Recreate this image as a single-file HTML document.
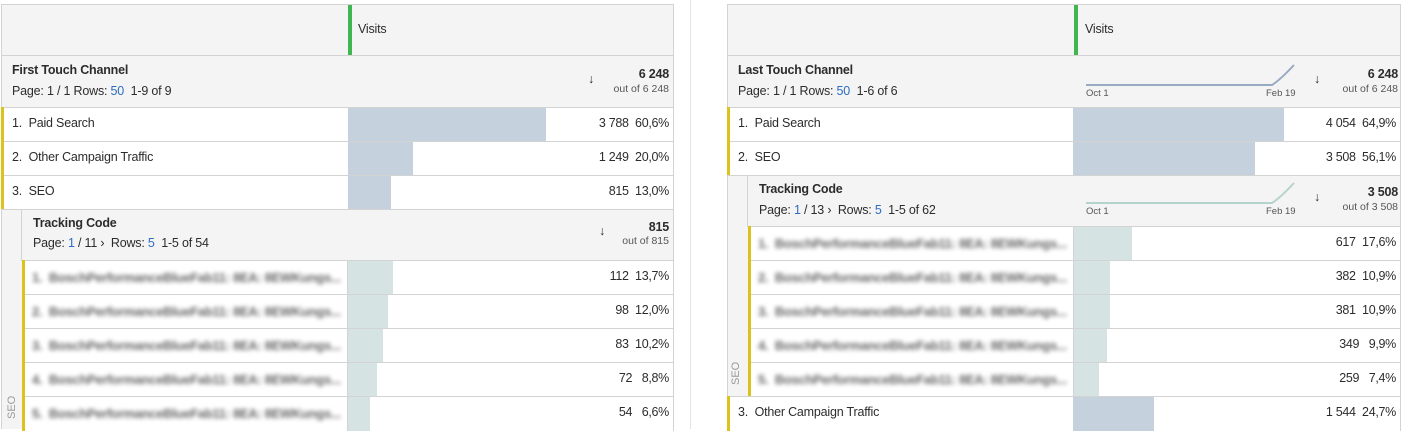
<!DOCTYPE html>
<html><head><meta charset="utf-8"><style>
*{margin:0;padding:0;box-sizing:border-box}
body{width:1409px;height:429px;background:#fff;position:relative;overflow:hidden;font-family:"Liberation Sans",sans-serif;color:#2c2c2c}
.a{position:absolute}
.hd{background:#f4f4f4;border:1px solid #d3d3d3}
.t{font-size:12.5px;white-space:nowrap;letter-spacing:-0.2px}
.b{font-weight:bold}
.blue{color:#2d6cc0}
.row{position:absolute;background:#fff;border-top:1px solid #d3d3d3;border-right:1px solid #d3d3d3}
.yel{position:absolute;left:0;top:-1px;bottom:0;width:3px;background:#dcc21c}
.bar{position:absolute;top:0;bottom:0}
.num{position:absolute;right:4px;font-size:12.5px;letter-spacing:-0.3px;white-space:nowrap}
.blur{filter:blur(2px);color:#666;font-size:13px;font-weight:bold;white-space:nowrap;letter-spacing:-0.3px}
.sm{font-size:10.5px;color:#555}
</style></head><body>
<div class="a" style="left:690px;top:0;width:1px;height:429px;background:#e3e3e3"></div>

<!-- LEFT PANEL -->
<div class="a hd" style="left:1px;top:4px;width:673px;height:52px"></div>
<div class="a" style="left:348px;top:5px;width:4px;height:50px;background:#3fb64f"></div>
<div class="a t" style="left:358px;top:22px">Visits</div>
<div class="a hd" style="left:1px;top:55px;width:673px;height:53px"></div>
<div class="a t b" style="left:12px;top:63px">First Touch Channel</div>
<div class="a t" style="left:12px;top:84px">Page: 1 / 1 Rows: <span class="blue">50</span>&nbsp; 1-9 of 9</div>
<div class="a t" style="left:588px;top:72px">&#8595;</div>
<div class="a t b" style="right:740px;top:67px">6 248</div>
<div class="a sm" style="right:740px;top:83px">out of 6 248</div>

<div class="row" style="left:1px;top:107px;width:673px;height:35px"><div class="yel"></div>
<div class="bar" style="left:347px;width:198px;background:#c5d2dd"></div>
<div class="a t" style="left:11px;top:8px">1.&nbsp; Paid Search</div><div class="num" style="top:8px">3 788&nbsp; 60,6%</div></div>
<div class="row" style="left:1px;top:141px;width:673px;height:35px"><div class="yel"></div>
<div class="bar" style="left:347px;width:65px;background:#c5d2dd"></div>
<div class="a t" style="left:11px;top:8px">2.&nbsp; Other Campaign Traffic</div><div class="num" style="top:8px">1 249&nbsp; 20,0%</div></div>
<div class="row" style="left:1px;top:175px;width:673px;height:35px"><div class="yel"></div>
<div class="bar" style="left:347px;width:43px;background:#c5d2dd"></div>
<div class="a t" style="left:11px;top:8px">3.&nbsp; SEO</div><div class="num" style="top:8px">815&nbsp; 13,0%</div></div>

<div class="a" style="left:1px;top:209px;width:21px;height:220px;background:#f4f4f4;border-left:1px solid #d3d3d3;border-top:1px solid #d3d3d3"></div>
<div class="a" style="left:2px;top:403px;font-size:11px;color:#999;transform:rotate(-90deg);width:20px;text-align:center">SEO</div>
<div class="a hd" style="left:21px;top:209px;width:653px;height:52px"></div>
<div class="a t b" style="left:33px;top:216px">Tracking Code</div>
<div class="a t" style="left:33px;top:236px">Page: <span class="blue">1</span> / 11 &#8250;&nbsp; Rows: <span class="blue">5</span>&nbsp; 1-5 of 54</div>
<div class="a t" style="left:599px;top:224px">&#8595;</div>
<div class="a t b" style="right:740px;top:220px">815</div>
<div class="a sm" style="right:740px;top:235px">out of 815</div>

<div class="row" style="left:22px;top:260px;width:652px;height:35px"><div class="yel"></div><div class="bar" style="left:325px;width:1px;background:#d3d3d3"></div><div class="bar" style="left:326px;width:45px;background:#d5e4e3"></div><div class="a blur" style="left:10px;top:9px">1.&nbsp; BoschPerformanceBlueFab11: 8EA: 8EWKungs...</div><div class="num" style="top:8px">112&nbsp; 13,7%</div></div>
<div class="row" style="left:22px;top:294px;width:652px;height:35px"><div class="yel"></div><div class="bar" style="left:325px;width:1px;background:#d3d3d3"></div><div class="bar" style="left:326px;width:40px;background:#d5e4e3"></div><div class="a blur" style="left:10px;top:9px">2.&nbsp; BoschPerformanceBlueFab11: 8EA: 8EWKungs...</div><div class="num" style="top:8px">98&nbsp; 12,0%</div></div>
<div class="row" style="left:22px;top:328px;width:652px;height:35px"><div class="yel"></div><div class="bar" style="left:325px;width:1px;background:#d3d3d3"></div><div class="bar" style="left:326px;width:35px;background:#d5e4e3"></div><div class="a blur" style="left:10px;top:9px">3.&nbsp; BoschPerformanceBlueFab11: 8EA: 8EWKungs...</div><div class="num" style="top:8px">83&nbsp; 10,2%</div></div>
<div class="row" style="left:22px;top:362px;width:652px;height:35px"><div class="yel"></div><div class="bar" style="left:325px;width:1px;background:#d3d3d3"></div><div class="bar" style="left:326px;width:29px;background:#d5e4e3"></div><div class="a blur" style="left:10px;top:9px">4.&nbsp; BoschPerformanceBlueFab11: 8EA: 8EWKungs...</div><div class="num" style="top:8px">72&nbsp;&nbsp; 8,8%</div></div>
<div class="row" style="left:22px;top:396px;width:652px;height:35px"><div class="yel"></div><div class="bar" style="left:325px;width:1px;background:#d3d3d3"></div><div class="bar" style="left:326px;width:22px;background:#d5e4e3"></div><div class="a blur" style="left:10px;top:9px">5.&nbsp; BoschPerformanceBlueFab11: 8EA: 8EWKungs...</div><div class="num" style="top:8px">54&nbsp;&nbsp; 6,6%</div></div>

<!-- RIGHT PANEL -->
<div class="a hd" style="left:727px;top:4px;width:674px;height:52px"></div>
<div class="a" style="left:1074px;top:5px;width:4px;height:50px;background:#3fb64f"></div>
<div class="a t" style="left:1085px;top:22px">Visits</div>
<div class="a hd" style="left:727px;top:55px;width:674px;height:53px"></div>
<div class="a t b" style="left:738px;top:63px">Last Touch Channel</div>
<div class="a t" style="left:738px;top:84px">Page: 1 / 1 Rows: <span class="blue">50</span>&nbsp; 1-6 of 6</div>
<svg class="a" style="left:1080px;top:60px" width="230" height="40"><path d="M6 25 L192 25 Q200 20 214 5" fill="none" stroke="#97abc0" stroke-width="2"/></svg>
<div class="a" style="left:1086px;top:88px;font-size:9.5px;color:#555">Oct 1</div>
<div class="a" style="left:1266px;top:88px;font-size:9.5px;color:#555">Feb 19</div>
<div class="a t" style="left:1314px;top:72px">&#8595;</div>
<div class="a t b" style="right:11px;top:67px">6 248</div>
<div class="a sm" style="right:11px;top:83px">out of 6 248</div>

<div class="row" style="left:727px;top:107px;width:674px;height:35px"><div class="yel"></div>
<div class="bar" style="left:346px;width:211px;background:#c5d2dd"></div>
<div class="a t" style="left:11px;top:8px">1.&nbsp; Paid Search</div><div class="num" style="top:8px">4 054&nbsp; 64,9%</div></div>
<div class="row" style="left:727px;top:141px;width:674px;height:35px"><div class="yel"></div>
<div class="bar" style="left:346px;width:182px;background:#c5d2dd"></div>
<div class="a t" style="left:11px;top:8px">2.&nbsp; SEO</div><div class="num" style="top:8px">3 508&nbsp; 56,1%</div></div>

<div class="a" style="left:727px;top:175px;width:21px;height:222px;background:#f4f4f4;border-left:1px solid #d3d3d3;border-top:1px solid #d3d3d3"></div>
<div class="a" style="left:726px;top:369px;font-size:11px;color:#999;transform:rotate(-90deg);width:20px;text-align:center">SEO</div>
<div class="a hd" style="left:747px;top:175px;width:654px;height:52px"></div>
<div class="a t b" style="left:759px;top:182px">Tracking Code</div>
<div class="a t" style="left:759px;top:203px">Page: <span class="blue">1</span> / 13 &#8250;&nbsp; Rows: <span class="blue">5</span>&nbsp; 1-5 of 62</div>
<svg class="a" style="left:1080px;top:178px" width="230" height="40"><path d="M6 25 L192 25 Q200 20 214 5" fill="none" stroke="#b5d3cc" stroke-width="2"/></svg>
<div class="a" style="left:1086px;top:206px;font-size:9.5px;color:#555">Oct 1</div>
<div class="a" style="left:1266px;top:206px;font-size:9.5px;color:#555">Feb 19</div>
<div class="a t" style="left:1314px;top:190px">&#8595;</div>
<div class="a t b" style="right:11px;top:185px">3 508</div>
<div class="a sm" style="right:11px;top:201px">out of 3 508</div>

<div class="row" style="left:748px;top:226px;width:653px;height:35px"><div class="yel"></div><div class="bar" style="left:325px;width:1px;background:#d3d3d3"></div><div class="bar" style="left:326px;width:58px;background:#d5e4e3"></div><div class="a blur" style="left:10px;top:9px">1.&nbsp; BoschPerformanceBlueFab11: 8EA: 8EWKungs...</div><div class="num" style="top:8px">617&nbsp; 17,6%</div></div>
<div class="row" style="left:748px;top:260px;width:653px;height:35px"><div class="yel"></div><div class="bar" style="left:325px;width:1px;background:#d3d3d3"></div><div class="bar" style="left:326px;width:36px;background:#d5e4e3"></div><div class="a blur" style="left:10px;top:9px">2.&nbsp; BoschPerformanceBlueFab11: 8EA: 8EWKungs...</div><div class="num" style="top:8px">382&nbsp; 10,9%</div></div>
<div class="row" style="left:748px;top:294px;width:653px;height:35px"><div class="yel"></div><div class="bar" style="left:325px;width:1px;background:#d3d3d3"></div><div class="bar" style="left:326px;width:36px;background:#d5e4e3"></div><div class="a blur" style="left:10px;top:9px">3.&nbsp; BoschPerformanceBlueFab11: 8EA: 8EWKungs...</div><div class="num" style="top:8px">381&nbsp; 10,9%</div></div>
<div class="row" style="left:748px;top:328px;width:653px;height:35px"><div class="yel"></div><div class="bar" style="left:325px;width:1px;background:#d3d3d3"></div><div class="bar" style="left:326px;width:33px;background:#d5e4e3"></div><div class="a blur" style="left:10px;top:9px">4.&nbsp; BoschPerformanceBlueFab11: 8EA: 8EWKungs...</div><div class="num" style="top:8px">349&nbsp;&nbsp; 9,9%</div></div>
<div class="row" style="left:748px;top:362px;width:653px;height:35px"><div class="yel"></div><div class="bar" style="left:325px;width:1px;background:#d3d3d3"></div><div class="bar" style="left:326px;width:25px;background:#d5e4e3"></div><div class="a blur" style="left:10px;top:9px">5.&nbsp; BoschPerformanceBlueFab11: 8EA: 8EWKungs...</div><div class="num" style="top:8px">259&nbsp;&nbsp; 7,4%</div></div>
<div class="row" style="left:727px;top:396px;width:674px;height:35px"><div class="yel"></div>
<div class="bar" style="left:346px;width:81px;background:#c5d2dd"></div>
<div class="a t" style="left:11px;top:8px">3.&nbsp; Other Campaign Traffic</div><div class="num" style="top:8px">1 544&nbsp; 24,7%</div></div>
</body></html>
